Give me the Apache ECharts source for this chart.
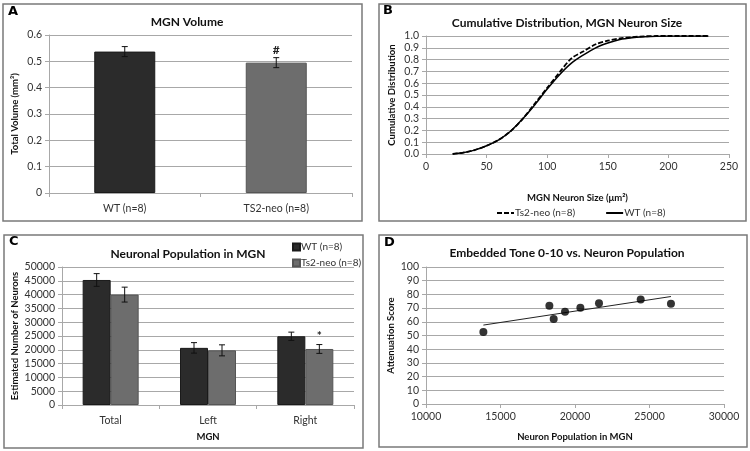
<!DOCTYPE html>
<html>
<head>
<meta charset="utf-8">
<script src="https://cdn.jsdelivr.net/npm/echarts@6/dist/echarts.min.js"></script>
<style>html,body{margin:0;padding:0;background:#fff}#c{width:750px;height:451px}</style>
</head>
<body>
<div id="c"></div>
<script>
// ---- Panel A: MGN Volume ----
const volCategories = ['WT (n=8)', 'TS2-neo (n=8)'];
const volMeans = [0.537, 0.495];
const volErrors = [0.019, 0.019];
const volMarks = ['', '#'];

// ---- Panel B: cumulative distribution ----
const sizeValues = [22, 30, 40, 50, 60, 70, 80, 90, 100, 110, 120, 130, 140, 150, 160, 170, 180, 190, 200, 233];
const cumWT  = [0, 0.01, 0.033, 0.07, 0.12, 0.195, 0.30, 0.42, 0.55, 0.67, 0.77, 0.84, 0.90, 0.94, 0.97, 0.985, 0.993, 0.998, 1.0, 1.0];
const cumTs2 = [0, 0.01, 0.033, 0.07, 0.12, 0.195, 0.30, 0.43, 0.56, 0.69, 0.81, 0.87, 0.93, 0.96, 0.98, 0.99, 0.997, 1.0, 1.0, 1.0];

// ---- Panel C: neuronal population ----
const popCategories = ['Total', 'Left', 'Right'];
const popWT = [45300, 20700, 24900];
const popWTErr = [2300, 1900, 1500];
const popTs2 = [40000, 19800, 20300];
const popTs2Err = [2700, 2000, 1600];
const popTs2Marks = ['', '', '*'];

// ---- Panel D: scatter ----
const neuronPop = [13850, 18280, 18570, 19330, 20360, 21610, 24410, 26440];
const attenScore = [52.6, 71.8, 62.0, 67.4, 70.3, 73.5, 76.2, 73.2];

const FONT = 'Lato';
const txt = '#333';
const gridC = '#a8a8a8';

// linear trendline (least squares) for panel D
const n = neuronPop.length;
const mx = neuronPop.reduce((a, b) => a + b, 0) / n;
const my = attenScore.reduce((a, b) => a + b, 0) / n;
let sxy = 0, sxx = 0;
for (let i = 0; i < n; i++) { sxy += (neuronPop[i] - mx) * (attenScore[i] - my); sxx += (neuronPop[i] - mx) ** 2; }
const slope = sxy / sxx, icpt = my - slope * mx;
const xMin = Math.min(...neuronPop), xMax = Math.max(...neuronPop);
const trend = [[xMin, icpt + slope * xMin], [xMax, icpt + slope * xMax]];

function valAxis(gi, min, max, interval, name, gap, fmt) {
  return {
    type: 'value', gridIndex: gi, min, max, interval,
    name, nameLocation: 'middle', nameGap: gap,
    nameTextStyle: { fontFamily: FONT, fontWeight: 'bold', fontSize: 9.5, color: '#111' },
    axisLine: { show: true, lineStyle: { color: gridC } },
    axisTick: { show: true, length: 4, lineStyle: { color: gridC } },
    axisLabel: { fontFamily: FONT, fontSize: 10.5, color: txt, margin: 7, formatter: fmt || (v => String(v)) },
    splitLine: { show: true, lineStyle: { color: gridC, width: 1 } }
  };
}
function catAxis(gi, data, name, gap) {
  return {
    type: 'category', gridIndex: gi, data,
    name, nameLocation: 'middle', nameGap: gap,
    nameTextStyle: { fontFamily: FONT, fontWeight: 'bold', fontSize: 9.5, color: '#111' },
    axisLine: { show: true, lineStyle: { color: gridC } },
    axisTick: { show: true, length: 4, lineStyle: { color: gridC } },
    axisLabel: { fontFamily: FONT, fontSize: 10.5, color: txt, margin: 10 },
    splitLine: { show: false }
  };
}

function errSeries(xi, yi, means, errs, marks, offset) {
  return {
    type: 'custom', xAxisIndex: xi, yAxisIndex: yi, silent: true, z: 5,
    data: means.map((m, i) => [i, m, errs[i]]),
    renderItem: function (params, api) {
      const c = api.value(0), m = api.value(1), e = api.value(2);
      const hi = api.coord([c, m + e]), lo = api.coord([c, m - e]);
      const x = hi[0] + offset;
      const w = 3;
      const st = { stroke: '#111', lineWidth: 1 };
      const ch = [
        { type: 'line', shape: { x1: x, y1: hi[1], x2: x, y2: lo[1] }, style: st },
        { type: 'line', shape: { x1: x - w, y1: hi[1], x2: x + w, y2: hi[1] }, style: st },
        { type: 'line', shape: { x1: x - w, y1: lo[1], x2: x + w, y2: lo[1] }, style: st }
      ];
      const mk = marks[params.dataIndex];
      if (mk) ch.push({ type: 'text', x: x, y: hi[1] - 2, style: { text: mk, fill: '#222', fontFamily: FONT, fontWeight: 'bold', fontSize: 12, align: 'center', verticalAlign: 'bottom' } });
      return { type: 'group', children: ch };
    }
  };
}

const chart = echarts.init(document.getElementById('c'), null, { renderer: 'canvas' });
const titleStyle = { fontFamily: FONT, fontWeight: 'bold', fontSize: 12, color: '#111' };
const frame = { stroke: '#7a7a7a', lineWidth: 1.5, fill: 'none' };

chart.setOption({
  backgroundColor: '#fff',
  animation: false,
  title: [
    { text: 'MGN Volume', left: 182, top: 11, textAlign: 'center', textStyle: titleStyle },
    { text: 'Cumulative Distribution, MGN Neuron Size', left: 562, top: 12, textAlign: 'center', textStyle: titleStyle },
    { text: 'Neuronal Population in MGN', left: 183, top: 243, textAlign: 'center', textStyle: titleStyle },
    { text: 'Embedded Tone 0-10 vs. Neuron Population', left: 562, top: 242, textAlign: 'center', textStyle: titleStyle }
  ],
  graphic: [
    { type: 'rect', shape: { x: 3, y: 4, width: 359, height: 217 }, style: frame, silent: true },
    { type: 'rect', shape: { x: 379, y: 4, width: 367, height: 217 }, style: frame, silent: true },
    { type: 'rect', shape: { x: 4, y: 235, width: 359, height: 213 }, style: frame, silent: true },
    { type: 'rect', shape: { x: 379, y: 235, width: 368, height: 212 }, style: frame, silent: true },
    { type: 'text', x: 8, y: 5, style: { text: 'A', fontFamily: 'DejaVu Sans', fontWeight: 'bold', fontSize: 13, fill: '#000' } },
    { type: 'text', x: 383, y: 4, style: { text: 'B', fontFamily: 'DejaVu Sans', fontWeight: 'bold', fontSize: 13, fill: '#000' } },
    { type: 'text', x: 9, y: 235, style: { text: 'C', fontFamily: 'DejaVu Sans', fontWeight: 'bold', fontSize: 13, fill: '#000' } },
    { type: 'text', x: 384, y: 236, style: { text: 'D', fontFamily: 'DejaVu Sans', fontWeight: 'bold', fontSize: 13, fill: '#000' } }
  ],
  legend: [
    {
      data: ['B_Ts2', 'B_WT'], left: 491, top: 203, itemWidth: 17, itemHeight: 8, itemGap: 30,
      itemStyle: { opacity: 0 },
      formatter: n => n === 'B_Ts2' ? 'Ts2-neo (n=8)' : 'WT (n=8)',
      textStyle: { fontFamily: FONT, fontSize: 10, color: txt, padding: [0, 0, 0, -4] }
    },
    {
      data: ['C_WT', 'C_Ts2'], orient: 'vertical', left: 287, top: 237, itemWidth: 7, itemHeight: 7, itemGap: 6,
      icon: 'rect',
      formatter: n => n === 'C_WT' ? 'WT (n=8)' : 'Ts2-neo (n=8)',
      textStyle: { fontFamily: FONT, fontSize: 10, color: txt, padding: [0, 0, 0, -4] }
    }
  ],
  grid: [
    { left: 49, top: 35, width: 303, height: 158 },
    { left: 426, top: 36, width: 303, height: 118 },
    { left: 62, top: 267, width: 292, height: 138 },
    { left: 426, top: 267, width: 298, height: 137 }
  ],
  xAxis: [
    catAxis(0, volCategories, '', 0),
    Object.assign(valAxis(1, 0, 250, 50, 'MGN Neuron Size (μm²)', 39), { splitLine: { show: false } }),
    catAxis(2, popCategories, 'MGN', 27),
    Object.assign(valAxis(3, 10000, 30000, 5000, 'Neuron Population in MGN', 28), { splitLine: { show: false } })
  ],
  yAxis: [
    valAxis(0, 0, 0.6, 0.1, 'Total Volume (mm³)', 29, v => String(Math.round(v * 10) / 10)),
    valAxis(1, 0, 1, 0.1, 'Cumulative Distribution', 29, v => v.toFixed(1)),
    valAxis(2, 0, 50000, 5000, 'Estimated Number of Neurons', 42),
    valAxis(3, 0, 100, 10, 'Attenuation Score', 30)
  ],
  series: [
    {
      name: 'A_vol', type: 'bar', xAxisIndex: 0, yAxisIndex: 0, barWidth: 61,
      data: volMeans.map((v, i) => ({ value: v, itemStyle: { color: i === 0 ? '#2b2b2b' : '#6d6d6d', borderColor: i === 0 ? '#1a1a1a' : '#555', borderWidth: 1 } }))
    },
    errSeries(0, 0, volMeans, volErrors, volMarks, 0),
    {
      name: 'B_Ts2', type: 'line', xAxisIndex: 1, yAxisIndex: 1, smooth: 0.3, showSymbol: false, symbol: 'none',
      data: sizeValues.map((x, i) => [x, cumTs2[i]]),
      lineStyle: { color: '#000', width: 1.8, type: [5, 2] }, itemStyle: { color: '#000' }
    },
    {
      name: 'B_WT', type: 'line', xAxisIndex: 1, yAxisIndex: 1, smooth: 0.3, showSymbol: false, symbol: 'none',
      data: sizeValues.map((x, i) => [x, cumWT[i]]),
      lineStyle: { color: '#000', width: 1.5, type: 'solid' }, itemStyle: { color: '#000' }
    },
    {
      name: 'C_WT', type: 'bar', xAxisIndex: 2, yAxisIndex: 2, barWidth: 28, barGap: '0%',
      data: popWT, itemStyle: { color: '#2b2b2b', borderColor: '#1a1a1a', borderWidth: 1 }
    },
    {
      name: 'C_Ts2', type: 'bar', xAxisIndex: 2, yAxisIndex: 2, barWidth: 28, barGap: '0%',
      data: popTs2, itemStyle: { color: '#6d6d6d', borderColor: '#555', borderWidth: 1 }
    },
    errSeries(2, 2, popWT, popWTErr, ['', '', ''], -14),
    errSeries(2, 2, popTs2, popTs2Err, popTs2Marks, 14),
    {
      name: 'D_pts', type: 'scatter', xAxisIndex: 3, yAxisIndex: 3, symbolSize: 8,
      data: neuronPop.map((x, i) => [x, attenScore[i]]), itemStyle: { color: '#000' }, z: 4
    },
    {
      name: 'D_trend', type: 'line', xAxisIndex: 3, yAxisIndex: 3, showSymbol: false, symbol: 'none',
      data: trend, lineStyle: { color: '#222', width: 1 }, z: 3
    }
  ]
});
</script>
</body>
</html>
